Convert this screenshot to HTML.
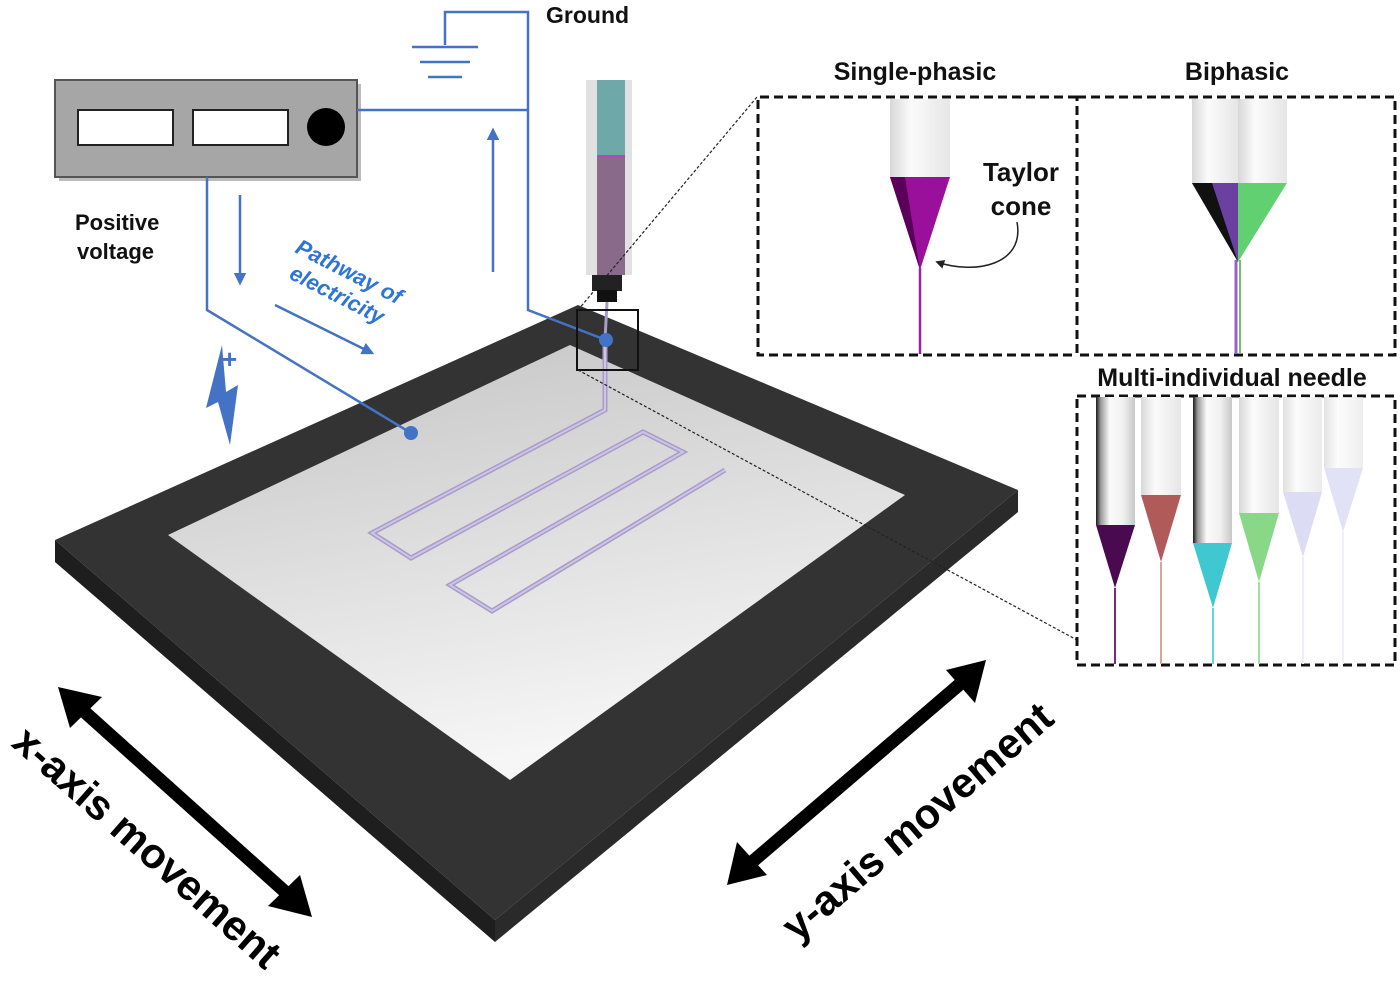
<!DOCTYPE html>
<html><head><meta charset="utf-8"><style>
html,body{margin:0;padding:0;background:#fff;}
svg{display:block;}
text{font-family:"Liberation Sans",Arial,sans-serif;font-weight:bold;}
</style></head><body>
<svg width="1400" height="984" viewBox="0 0 1400 984" xmlns="http://www.w3.org/2000/svg">
<defs>
<linearGradient id="plate" x1="0" y1="0" x2="0.3" y2="1">
<stop offset="0" stop-color="#c4c4c4"/><stop offset="1" stop-color="#f6f6f6"/></linearGradient>
<linearGradient id="cyl" x1="0" y1="0" x2="1" y2="0">
<stop offset="0" stop-color="#1a1a1a"/><stop offset="0.12" stop-color="#9a9a9a"/><stop offset="0.35" stop-color="#fafafa"/><stop offset="0.7" stop-color="#f0f0f0"/><stop offset="1" stop-color="#c8c8c8"/></linearGradient>
<linearGradient id="cylf" x1="0" y1="0" x2="1" y2="0">
<stop offset="0" stop-color="#d8d8d8"/><stop offset="0.35" stop-color="#fbfbfb"/><stop offset="1" stop-color="#e6e6e6"/></linearGradient>
<marker id="ab" viewBox="0 0 10 10" refX="8" refY="5" markerWidth="5" markerHeight="5" orient="auto"><path d="M0,0L10,5L0,10z" fill="#4472c4"/></marker>
<marker id="ak" viewBox="0 0 10 10" refX="8" refY="5" markerWidth="6" markerHeight="6" orient="auto"><path d="M0,0L10,5L0,10z" fill="#222"/></marker>
</defs>

<polygon points="55,540 495,920 495,942 55,562" fill="#1e1e1e"/>
<polygon points="495,920 1018,490 1018,512 495,942" fill="#2a2a2a"/>
<polygon points="55,540 578,305 1018,490 495,920" fill="#333"/>
<polygon points="168,535 570,345 905,495 510,780" fill="url(#plate)"/>

<polyline points="605,340 605,410 372,533 411,558 643,432 683,452 450,585 492,611 725,470" fill="none" stroke="#a89cc8" stroke-width="5"/>
<polyline points="605,340 605,410 372,533 411,558 643,432 683,452 450,585 492,611 725,470" fill="none" stroke="#cdc4e6" stroke-width="2"/>

<rect x="59" y="84" width="302" height="97" fill="#777" opacity="0.5"/>
<rect x="55" y="80" width="302" height="97" fill="#a6a6a6" stroke="#555" stroke-width="2"/>
<rect x="78" y="110" width="95" height="35" fill="#fff" stroke="#222" stroke-width="2"/>
<rect x="193" y="110" width="95" height="35" fill="#fff" stroke="#222" stroke-width="2"/>
<circle cx="326" cy="127" r="19" fill="#000"/>

<g stroke="#4472c4" stroke-width="2.5" fill="none">
<polyline points="207,177 207,310 411,433"/>
<polyline points="357,110 528,110"/>
<polyline points="528,110 528,12 445,12 445,45"/>
<polyline points="528,110 528,310 606,340"/>
<line x1="412" y1="47" x2="478" y2="47"/>
<line x1="420" y1="62" x2="470" y2="62"/>
<line x1="428" y1="77" x2="462" y2="77"/>
<line x1="240" y1="195" x2="240" y2="283" marker-end="url(#ab)"/>
<line x1="493" y1="272" x2="493" y2="130" marker-end="url(#ab)"/>
<line x1="275" y1="305" x2="372" y2="353" marker-end="url(#ab)"/>
</g>
<circle cx="411" cy="433" r="7" fill="#4472c4"/>
<polygon points="222,345 206,408 218,402 230,445 238,385 226,392" fill="#4472c4"/>
<text x="222" y="368" font-size="26" fill="#4472c4">+</text>

<rect x="586" y="80" width="46" height="195" fill="#d9d9d9" opacity="0.8"/>
<rect x="597" y="80" width="28" height="75" fill="#6fa8a8"/>
<rect x="597" y="155" width="28" height="120" fill="#8a6a8a"/>
<line x1="597" y1="156" x2="625" y2="156" stroke="#c040c0" stroke-width="1.5"/>
<rect x="592" y="275" width="30" height="16" fill="#222"/>
<rect x="597" y="290" width="20" height="12" fill="#111"/>
<line x1="607" y1="302" x2="605" y2="340" stroke="#a89cc8" stroke-width="3"/>
<circle cx="606" cy="340" r="7" fill="#4472c4"/>
<rect x="577" y="310" width="61" height="60" fill="none" stroke="#111" stroke-width="2"/>
<line x1="578" y1="310" x2="757" y2="97" stroke="#222" stroke-width="1.2" stroke-dasharray="3,2"/>
<line x1="578" y1="370" x2="1077" y2="640" stroke="#222" stroke-width="1.2" stroke-dasharray="3,2"/>

<text x="546" y="23" font-size="23" fill="#111">Ground</text>
<text x="75" y="230" font-size="22" fill="#111">Positive</text>
<text x="77" y="259" font-size="22" fill="#111">voltage</text>
<g transform="translate(294,252) rotate(27)"><text font-size="22" fill="#2e75d6" font-style="italic">Pathway of</text></g>
<g transform="translate(288,278) rotate(27)"><text font-size="22" fill="#2e75d6" font-style="italic">electricity</text></g>

<g fill="none" stroke="#111" stroke-width="3" stroke-dasharray="9,5">
<polyline points="1077,97 758,97 758,355 1077,355"/>
<rect x="1077" y="97" width="318" height="258"/>
<rect x="1077" y="396" width="318" height="269"/>
</g>
<text x="915" y="80" font-size="25" text-anchor="middle" fill="#111">Single-phasic</text>
<text x="1237" y="80" font-size="25" text-anchor="middle" fill="#111">Biphasic</text>
<text x="1232" y="386" font-size="25" text-anchor="middle" fill="#111">Multi-individual needle</text>

<rect x="890" y="99" width="60" height="78" fill="url(#cylf)"/>
<polygon points="890,177 950,177 920,270" fill="#9a109a"/>
<polygon points="890,177 905,177 920,270" fill="#5a005a"/>
<line x1="920" y1="268" x2="920" y2="354" stroke="#a020a0" stroke-width="2.5"/>
<text x="1021" y="181" font-size="26" text-anchor="middle" fill="#111">Taylor</text>
<text x="1021" y="215" font-size="26" text-anchor="middle" fill="#111">cone</text>
<path d="M1017,222 C1025,265 975,275 937,262" fill="none" stroke="#222" stroke-width="1.5" marker-end="url(#ak)"/>

<rect x="1192" y="99" width="46" height="84" fill="url(#cylf)"/>
<rect x="1238" y="99" width="49" height="84" fill="url(#cylf)"/>
<polygon points="1192,183 1238,183 1238,262" fill="#6a40a0"/>
<polygon points="1192,183 1212,183 1238,262" fill="#111"/>
<polygon points="1238,183 1287,183 1238,262" fill="#60d070"/>
<line x1="1236" y1="260" x2="1236" y2="354" stroke="#9a60d0" stroke-width="3"/>
<line x1="1240" y1="260" x2="1240" y2="354" stroke="#70c070" stroke-width="2"/>

<g>
<rect x="1096" y="397" width="39" height="128" fill="url(#cyl)"/>
<polygon points="1096,525 1135,525 1115,588" fill="#4a0a50"/>
<line x1="1115" y1="588" x2="1115" y2="664" stroke="#7a2a80" stroke-width="2"/>
<rect x="1141" y="397" width="40" height="98" fill="url(#cylf)"/>
<polygon points="1141,495 1181,495 1161,562" fill="#b05a5a"/>
<line x1="1161" y1="562" x2="1161" y2="664" stroke="#e0a0a0" stroke-width="2"/>
<rect x="1193" y="397" width="39" height="146" fill="url(#cyl)"/>
<polygon points="1193,543 1232,543 1213,608" fill="#40c8d0"/>
<line x1="1213" y1="608" x2="1213" y2="664" stroke="#60d8e0" stroke-width="2"/>
<rect x="1239" y="397" width="40" height="116" fill="url(#cylf)"/>
<polygon points="1239,513 1279,513 1259,582" fill="#88d888"/>
<line x1="1259" y1="582" x2="1259" y2="664" stroke="#a0e0a0" stroke-width="2"/>
<rect x="1283" y="397" width="39" height="95" fill="url(#cylf)" opacity="0.8"/>
<polygon points="1283,492 1322,492 1303,557" fill="#dcdcf4"/>
<line x1="1303" y1="557" x2="1303" y2="664" stroke="#eeeefa" stroke-width="2"/>
<rect x="1324" y="397" width="39" height="71" fill="url(#cylf)" opacity="0.7"/>
<polygon points="1324,468 1363,468 1343,532" fill="#e2e2f6"/>
<line x1="1343" y1="532" x2="1343" y2="664" stroke="#f0f0fa" stroke-width="2"/>
</g>

<g stroke="#000" stroke-width="13">
<line x1="78" y1="706" x2="292" y2="898"/>
<line x1="967" y1="678" x2="745" y2="868"/>
</g>
<polygon points="58,687 102,697 70,728" fill="#000"/>
<polygon points="312,917 268,906 300,875" fill="#000"/>
<polygon points="986,660 975,703 946,670" fill="#000"/>
<polygon points="727,885 737,842 767,875" fill="#000"/>
<g transform="translate(10,745) rotate(41.5)"><text font-size="42" fill="#000">x-axis movement</text></g>
<g transform="translate(797,943) rotate(-40.5)"><text font-size="42" fill="#000">y-axis movement</text></g>
</svg>
</body></html>
